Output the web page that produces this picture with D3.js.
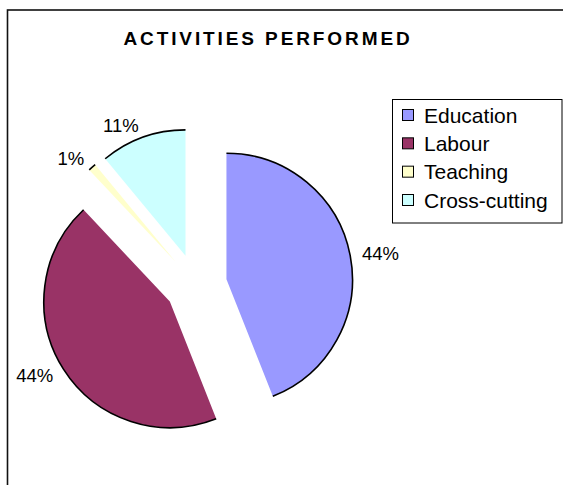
<!DOCTYPE html>
<html>
<head>
<meta charset="utf-8">
<script src="https://cdn.jsdelivr.net/npm/d3@7"></script>
<style>
  html, body { margin: 0; padding: 0; background: #fff; }
  svg { display: block; }
  text { font-family: "Liberation Sans", Arial, sans-serif; }
</style>
</head>
<body>
<svg id="chart" width="563" height="485"></svg>
<script>
// ---- data ----
const categories = ["Education", "Labour", "Teaching", "Cross-cutting"];
const values = [44, 44, 1, 11];
const valueLabels = ["44%", "44%", "1%", "11%"];
const colors = ["#9999FF", "#993366", "#FFFFCC", "#CCFFFF"];
const title = "ACTIVITIES PERFORMED";

// ---- layout ----
const W = 563, H = 485;
const cx = 196, cy = 285, R = 126, explode = 31, labelGap = 12;

const svg = d3.select("#chart");

// chart area border
svg.append("rect")
  .attr("x", 7.5).attr("y", 10)
  .attr("width", 700).attr("height", 600)
  .attr("fill", "#fff")
  .attr("stroke", "#111").attr("stroke-width", 1.6);

// title
svg.append("text")
  .attr("x", 268).attr("y", 45)
  .attr("text-anchor", "middle")
  .attr("font-size", 19).attr("font-weight", "bold")
  .attr("letter-spacing", 2.9)
  .attr("fill", "#000")
  .text(title);

const pie = d3.pie().sort(null).startAngle(0).endAngle(2 * Math.PI);
const arcs = pie(values);
const arcGen = d3.arc().innerRadius(0).outerRadius(R);
const mid = d => (d.startAngle + d.endAngle) / 2;

const g = svg.append("g").attr("transform", `translate(${cx},${cy})`);

const slice = g.selectAll("g.slice").data(arcs).join("g")
  .attr("class", "slice")
  .attr("transform", d => `translate(${explode * Math.sin(mid(d))},${-explode * Math.cos(mid(d))})`);

slice.append("path")
  .attr("d", arcGen)
  .attr("fill", (d, i) => colors[i])
  .attr("stroke", "none");

// outer arc outline only
slice.append("path")
  .attr("d", d => {
    const p = d3.path();
    p.arc(0, 0, R, d.startAngle - Math.PI / 2, d.endAngle - Math.PI / 2);
    return p.toString();
  })
  .attr("fill", "none")
  .attr("stroke", "#000")
  .attr("stroke-width", 1.6);

// data labels (outside end)
slice.append("text")
  .attr("x", d => (R + labelGap) * Math.sin(mid(d)))
  .attr("y", d => -(R + labelGap) * Math.cos(mid(d)))
  .attr("text-anchor", d => Math.sin(mid(d)) >= 0 ? "start" : "end")
  .attr("dy", "0.35em")
  .attr("font-size", 18.5)
  .attr("fill", "#000")
  .text((d, i) => valueLabels[i]);

// legend
const lg = svg.append("g");
lg.append("rect")
  .attr("x", 392.5).attr("y", 99.5)
  .attr("width", 169.5).attr("height", 123.5)
  .attr("fill", "#fff")
  .attr("stroke", "#000").attr("stroke-width", 1);

const rowY = d3.scalePoint().domain(categories).range([115, 200]);
const item = lg.selectAll("g.item").data(categories).join("g")
  .attr("class", "item")
  .attr("transform", d => `translate(0,${rowY(d)})`);
item.append("rect")
  .attr("x", 402.5).attr("y", -5.5)
  .attr("width", 11).attr("height", 11)
  .attr("fill", (d, i) => colors[i])
  .attr("stroke", "#000").attr("stroke-width", 1);
item.append("text")
  .attr("x", 424).attr("y", 7.5)
  .attr("font-size", 21)
  .attr("fill", "#000")
  .text(d => d);
</script>
</body>
</html>
